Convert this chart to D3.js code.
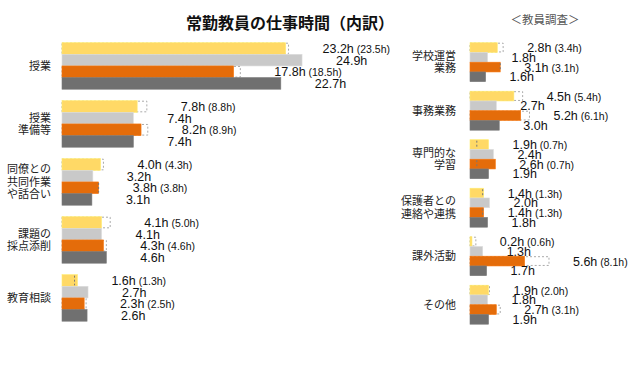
<!DOCTYPE html>
<html><head><meta charset="utf-8">
<script src="https://cdn.jsdelivr.net/npm/d3@7"></script>
<style>
html,body{margin:0;padding:0;background:#fff;}
svg{display:block;}
</style></head>
<body>
<svg id="chart" width="640" height="365"></svg>
<script>
// ---- data ----
const title = "常勤教員の仕事時間（内訳）";
const subtitle = "＜教員調査＞";
const seriesNames = ["s1", "s2", "s3", "s4"];
const seriesColors = ["#FFD966", "#C9C9C9", "#E46C0A", "#707070"];

const leftCategories = [["授業"], ["授業", "準備等"], ["同僚との", "共同作業", "や話合い"], ["課題の", "採点添削"], ["教育相談"]];
const leftS1 = [23.2, 7.8, 4.0, 4.1, 1.6];
const leftS1Prev = [23.5, 8.8, 4.3, 5.0, 1.3];
const leftS2 = [24.9, 7.4, 3.2, 4.1, 2.7];
const leftS3 = [17.8, 8.2, 3.8, 4.3, 2.3];
const leftS3Prev = [18.5, 8.9, 3.8, 4.6, 2.5];
const leftS4 = [22.7, 7.4, 3.1, 4.6, 2.6];

const rightCategories = [["学校運営", "業務"], ["事務業務"], ["専門的な", "学習"], ["保護者との", "連絡や連携"], ["課外活動"], ["その他"]];
const rightS1 = [2.8, 4.5, 1.9, 1.4, 0.2, 1.9];
const rightS1Prev = [3.4, 5.4, 0.7, 1.3, 0.6, 2.0];
const rightS2 = [1.8, 2.7, 2.4, 2.0, 1.3, 1.8];
const rightS3 = [3.1, 5.2, 2.6, 1.4, 5.6, 2.7];
const rightS3Prev = [3.1, 6.1, 0.7, 1.3, 8.1, 3.1];
const rightS4 = [1.6, 3.0, 1.9, 1.8, 1.7, 1.9];

// ---- drawing ----
const svg = d3.select("#chart");
const jp = "'Noto Sans CJK JP', 'Noto Sans', sans-serif";
const num = "'Liberation Sans', Arial, sans-serif";

svg.append("text").attr("x", 290).attr("y", 29).attr("text-anchor", "middle")
  .attr("font-family", jp).attr("font-weight", "bold").attr("font-size", 16).attr("fill", "#111")
  .text(title);
svg.append("text").attr("x", 545).attr("y", 24).attr("text-anchor", "middle")
  .attr("font-family", jp).attr("font-size", 11.5).attr("fill", "#555")
  .text(subtitle);

function panel(cfg) {
  const n = cfg.categories.length;
  const ids = d3.range(n);
  const y = d3.scaleBand().domain(ids).range(cfg.yRange).paddingInner(cfg.pad).paddingOuter(0);
  const yi = d3.scaleBand().domain(seriesNames).range([0, y.bandwidth()]).padding(0);
  const x = d3.scaleLinear().domain([0, 1]).range([cfg.x0, cfg.x0 + cfg.pxPerHour]);
  const vals = [cfg.s1, cfg.s2, cfg.s3, cfg.s4];
  const prevs = [cfg.s1Prev, null, cfg.s3Prev, null];

  const g = svg.append("g");
  ids.forEach(i => {
    const gy = y(i);
    // category label
    const lines = cfg.categories[i];
    const lh = 12.5;
    const cy = gy + y.bandwidth() / 2;
    const t = g.append("text").attr("text-anchor", "end").attr("font-family", jp)
      .attr("font-size", 11).attr("fill", "#222");
    lines.forEach((ln, k) => {
      t.append("tspan").attr("x", cfg.labelX)
        .attr("y", cy + (k - (lines.length - 1) / 2) * lh + 4).text(ln);
    });

    seriesNames.forEach((s, si) => {
      const by = gy + yi(s);
      const bh = yi.bandwidth();
      const v = vals[si][i];
      const p = prevs[si] ? prevs[si][i] : null;
      if (p !== null && p > v) {
        g.append("rect").attr("x", x(0)).attr("y", by + 0.5)
          .attr("width", x(p) - x(0)).attr("height", bh - 1)
          .attr("fill", "#fff").attr("stroke", "#aaa").attr("stroke-width", 1)
          .attr("stroke-dasharray", "2,2");
      }
      g.append("rect").attr("x", x(0)).attr("y", by)
        .attr("width", x(v) - x(0)).attr("height", bh)
        .attr("fill", seriesColors[si])
        .attr("stroke", d3.color(seriesColors[si]).brighter(0.25)).attr("stroke-width", 0.6);
      if (p !== null && p <= v) {
        g.append("line").attr("x1", x(p)).attr("x2", x(p))
          .attr("y1", by + 1).attr("y2", by + bh - 1)
          .attr("stroke", "#777").attr("stroke-width", 1).attr("stroke-dasharray", "2,2");
      }
      const end = p !== null ? Math.max(v, p) : v;
      const lt = g.append("text").attr("x", x(end) + cfg.labelGap).attr("y", by + bh / 2 + 4.5)
        .attr("font-family", num).attr("fill", "#111");
      lt.append("tspan").attr("font-size", 12.5).text(v.toFixed(1) + "h");
      if (p !== null) {
        lt.append("tspan").attr("font-size", 10.5).text(" (" + p.toFixed(1) + "h)");
      }
    });
  });
}

panel({
  categories: leftCategories,
  s1: leftS1, s1Prev: leftS1Prev, s2: leftS2, s3: leftS3, s3Prev: leftS3Prev, s4: leftS4,
  yRange: [42.7, 321.2], pad: 0.198, x0: 62, pxPerHour: 9.64, labelX: 51, labelGap: 34
});
panel({
  categories: rightCategories,
  s1: rightS1, s1Prev: rightS1Prev, s2: rightS2, s3: rightS3, s3Prev: rightS3Prev, s4: rightS4,
  yRange: [42.7, 324.2], pad: 0.196, x0: 470, pxPerHour: 9.75, labelX: 456, labelGap: 24
});
</script>
</body></html>
